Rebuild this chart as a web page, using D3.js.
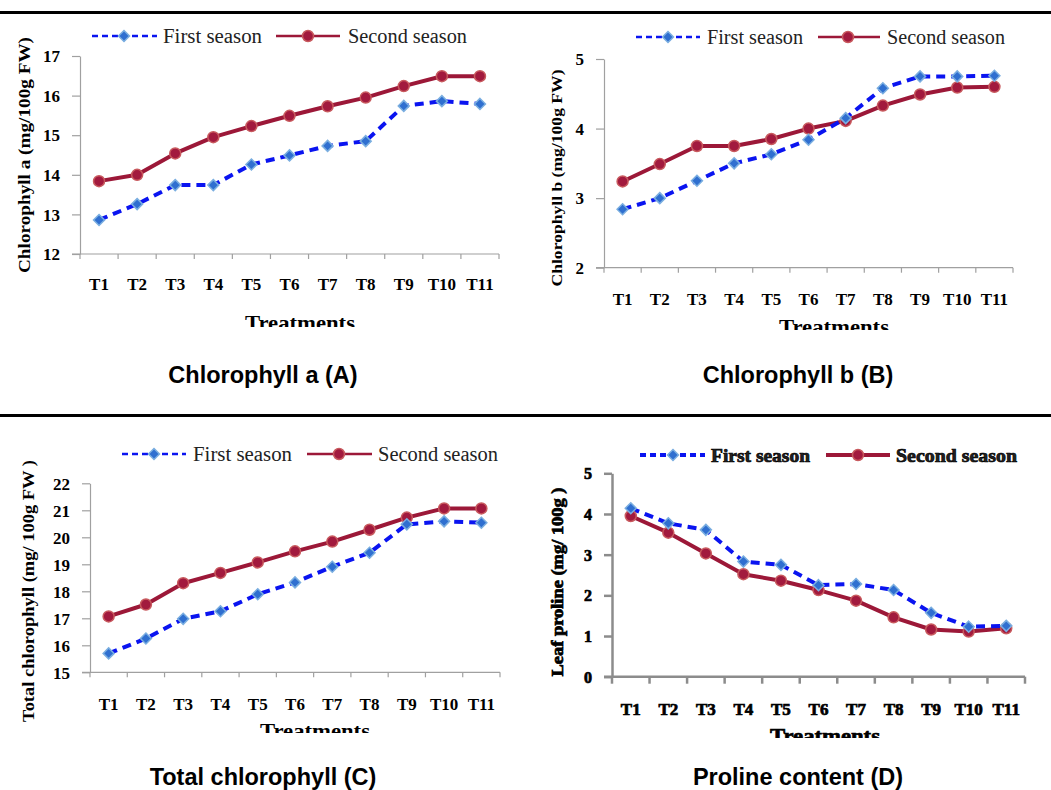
<!DOCTYPE html>
<html>
<head>
<meta charset="utf-8">
<script src="https://cdn.jsdelivr.net/npm/d3@7/dist/d3.min.js"></script>
<style>
	body { margin: 0; background: #fff; }
	.tick text, .tickLabel { font-family: "Liberation Serif", "Times New Roman", serif; font-weight: bold; fill: #000; }
	.legendText { font-family: "Liberation Serif", "Times New Roman", serif; fill: #222; }
	.yLabel, .xLabel { font-family: "Liberation Serif", "Times New Roman", serif; font-weight: bold; fill: #000; }
	.chartTitle { font-family: "Liberation Sans", Arial, sans-serif; font-weight: bold; fill: #000; }
	.heavy text, text.heavy { stroke: #000; stroke-width: 0.7px; }
</style>
</head>
<body>
<svg id="chart" width="1051" height="790"></svg>
<script>

// data
const treatments = ["T1", "T2", "T3", "T4", "T5", "T6", "T7", "T8", "T9", "T10", "T11"];

const chlAFirst  = [12.86, 13.26, 13.74, 13.74, 14.26, 14.49, 14.73, 14.85, 15.74, 15.86, 15.79];
const chlASecond = [13.84, 14.00, 14.54, 14.95, 15.23, 15.49, 15.73, 15.95, 16.24, 16.49, 16.49];

const chlBFirst  = [2.84, 3.00, 3.25, 3.50, 3.63, 3.84, 4.15, 4.58, 4.75, 4.75, 4.76];
const chlBSecond = [3.24, 3.49, 3.75, 3.75, 3.85, 4.00, 4.11, 4.33, 4.49, 4.59, 4.60];

const totalFirst  = [15.70, 16.25, 16.98, 17.26, 17.89, 18.33, 18.91, 19.43, 20.48, 20.59, 20.54];
const totalSecond = [17.07, 17.51, 18.30, 18.68, 19.07, 19.48, 19.84, 20.28, 20.73, 21.07, 21.07];

const prolineFirst  = [4.14, 3.77, 3.61, 2.83, 2.75, 2.25, 2.28, 2.13, 1.57, 1.23, 1.25];
const prolineSecond = [3.95, 3.54, 3.03, 2.52, 2.36, 2.13, 1.87, 1.46, 1.16, 1.11, 1.19];

const ticksA = [12, 13, 14, 15, 16, 17];
const ticksB = [2, 3, 4, 5];
const ticksC = [15, 16, 17, 18, 19, 20, 21, 22];
const ticksD = [0, 1, 2, 3, 4, 5];

const seriesNames = ["First season", "Second season"];

const BLUE = "#0a14f0";
const RED = "#9c1838";

const svg = d3.select("#chart");

// horizontal rules between rows
svg.append("line").attr("x1", 0).attr("x2", 1051).attr("y1", 12.5).attr("y2", 12.5)
	.attr("stroke", "#000").attr("stroke-width", 3);
svg.append("line").attr("x1", 0).attr("x2", 1051).attr("y1", 415.5).attr("y2", 415.5)
	.attr("stroke", "#000").attr("stroke-width", 3);

const panels = [
	{
		id: "A", first: chlAFirst, second: chlASecond, ticks: ticksA,
		left: 80, right: 499, top: 56, bottom: 254, axisColor: "#a0a0a0", axisWidth: 1.2, tickLen: 5,
		xLabelY: 290, yTickSize: 17,
		yLabel: "Chlorophyll a (mg/100g FW)", yLabelX: 24, yLabelMid: 155, yLabelLen: 236, yLabelSize: 16,
		treatX: 300, treatY: 330, treatClip: 327,
		legendY: 36, legendBase: 43,
		leg1: [92, 157, 124, 163, 99], leg2: [276, 340, 308, 348, 119], legSize: 20,
		title: "Chlorophyll a (A)", titleX: 263, titleY: 383, heavy: false
	},
	{
		id: "B", first: chlBFirst, second: chlBSecond, ticks: ticksB,
		left: 604, right: 1013, top: 59, bottom: 267.7, axisColor: "#a0a0a0", axisWidth: 1.2, tickLen: 5,
		xLabelY: 305, yTickSize: 17,
		yLabel: "Chlorophyll b (mg/100g FW)", yLabelX: 557, yLabelMid: 178, yLabelLen: 217, yLabelSize: 15,
		treatX: 834, treatY: 334, treatClip: 330,
		legendY: 37, legendBase: 44,
		leg1: [636, 700, 668, 707, 96], leg2: [818, 880, 848, 887, 118], legSize: 20,
		title: "Chlorophyll b (B)", titleX: 798, titleY: 383, heavy: false
	},
	{
		id: "C", first: totalFirst, second: totalSecond, ticks: ticksC,
		left: 90, right: 500, top: 483.3, bottom: 672.3, axisColor: "#a0a0a0", axisWidth: 1.2, tickLen: 5,
		xLabelY: 710, yTickSize: 17,
		yLabel: "Total chlorophyll (mg/ 100g FW )", yLabelX: 28, yLabelMid: 591, yLabelLen: 262, yLabelSize: 16,
		treatX: 315, treatY: 738, treatClip: 733,
		legendY: 454, legendBase: 461,
		leg1: [122, 186, 154, 193, 99], leg2: [307, 372, 339, 378, 120], legSize: 20,
		title: "Total chlorophyll (C)", titleX: 263, titleY: 785, heavy: false
	},
	{
		id: "D", first: prolineFirst, second: prolineSecond, ticks: ticksD,
		left: 612, right: 1025, top: 473.3, bottom: 676.7, axisColor: "#8c8c8c", axisWidth: 2.5, tickLen: 7,
		xLabelY: 715, yTickSize: 16,
		yLabel: "Leaf proline (mg/ 100g )", yLabelX: 557, yLabelMid: 582, yLabelLen: 189, yLabelSize: 16,
		treatX: 825, treatY: 743, treatClip: 738,
		legendY: 455, legendBase: 462,
		leg1: [640, 705, 673, 711, 99], leg2: [826, 890, 858, 896, 121], legSize: 19,
		title: "Proline content (D)", titleX: 798, titleY: 785, heavy: true
	}
];

function diamond(g, x, y, r) {
	g.append("path")
		.attr("d", `M${x},${y - r}L${x + r},${y}L${x},${y + r}L${x - r},${y}Z`)
		.attr("fill", "#2f6fd0")
		.attr("stroke", "#7aaee0")
		.attr("stroke-width", 1.5);
}

function dot(g, x, y, r) {
	g.append("circle")
		.attr("cx", x).attr("cy", y).attr("r", r)
		.attr("fill", "#a21a3e")
		.attr("stroke", "#c85a5e")
		.attr("stroke-width", 1.5);
}

panels.forEach(p => {

	const g = svg.append("g").attr("class", "panel" + p.id + (p.heavy ? " heavy" : ""));

	// scales
	const xScale = d3.scaleBand()
		.domain(treatments)
		.range([p.left, p.right]);

	const yScale = d3.scaleLinear()
		.domain(d3.extent(p.ticks))
		.range([p.bottom, p.top]);

	const cx = d => xScale(d) + xScale.bandwidth() / 2;

	// y axis
	const yAxis = g.append("g")
		.attr("transform", `translate(${p.left}, 0)`)
		.call(d3.axisLeft(yScale)
			.tickValues(p.ticks)
			.tickFormat(d3.format("d"))
			.tickSize(8)
			.tickSizeOuter(0)
			.tickPadding(12)
		);

	yAxis.select(".domain").attr("stroke", p.axisColor).attr("stroke-width", p.axisWidth);
	yAxis.selectAll(".tick line").attr("stroke", p.axisColor).attr("stroke-width", p.axisWidth);
	yAxis.selectAll(".tick text")
		.attr("font-size", p.yTickSize)
		.attr("dy", "0.34em");
	yAxis.attr("font-family", null).attr("font-size", null);

	// x axis line with ticks on the category boundaries
	g.append("line")
		.attr("x1", p.left - 8).attr("x2", p.right)
		.attr("y1", p.bottom).attr("y2", p.bottom)
		.attr("stroke", p.axisColor).attr("stroke-width", p.axisWidth);

	g.selectAll(".xTick")
		.data(treatments.concat(["end"]))
		.enter()
		.append("line")
		.attr("class", "xTick")
		.attr("x1", d => d === "end" ? p.right : xScale(d))
		.attr("x2", d => d === "end" ? p.right : xScale(d))
		.attr("y1", p.bottom)
		.attr("y2", p.bottom + p.tickLen)
		.attr("stroke", p.axisColor).attr("stroke-width", p.axisWidth);

	g.selectAll(".tickLabel")
		.data(treatments)
		.enter()
		.append("text")
		.attr("class", "tickLabel")
		.attr("x", d => cx(d))
		.attr("y", p.xLabelY)
		.attr("text-anchor", "middle")
		.attr("font-size", 17)
		.text(d => d);

	// x axis title, cut off at the bottom as in the figure
	const clipId = "clip" + p.id;
	svg.append("clipPath").attr("id", clipId)
		.append("rect")
		.attr("x", p.treatX - 100).attr("y", p.treatClip - 40)
		.attr("width", 200).attr("height", 40);

	g.append("text")
		.attr("class", "xLabel")
		.attr("clip-path", `url(#${clipId})`)
		.attr("x", p.treatX)
		.attr("y", p.treatY)
		.attr("text-anchor", "middle")
		.attr("font-size", 21)
		.attr("textLength", 110)
		.attr("lengthAdjust", "spacingAndGlyphs")
		.text("Treatments");

	// y axis title
	g.append("text")
		.attr("class", "yLabel")
		.attr("transform", `translate(${p.yLabelX}, ${p.yLabelMid}) rotate(-90)`)
		.attr("text-anchor", "middle")
		.attr("dy", "0.35em")
		.attr("font-size", p.yLabelSize)
		.attr("textLength", p.yLabelLen)
		.attr("lengthAdjust", "spacingAndGlyphs")
		.text(p.yLabel);

	// lines
	const line = d3.line()
		.x((d, i) => cx(treatments[i]))
		.y(d => yScale(d));

	g.append("path")
		.datum(p.second)
		.attr("fill", "none")
		.attr("stroke", RED)
		.attr("stroke-width", 4)
		.attr("stroke-linejoin", "round")
		.attr("d", line);

	g.append("path")
		.datum(p.first)
		.attr("fill", "none")
		.attr("stroke", BLUE)
		.attr("stroke-width", 4)
		.attr("stroke-dasharray", "9 6")
		.attr("stroke-linecap", "butt")
		.attr("d", line);

	p.second.forEach((v, i) => dot(g, cx(treatments[i]), yScale(v), 5.5));
	p.first.forEach((v, i) => diamond(g, cx(treatments[i]), yScale(v), 5.5));

	// legend
	const leg = g.append("g");

	leg.append("line")
		.attr("x1", p.leg1[0]).attr("x2", p.leg1[1])
		.attr("y1", p.legendY).attr("y2", p.legendY)
		.attr("stroke", BLUE).attr("stroke-width", p.heavy ? 4 : 2.5)
		.attr("stroke-dasharray", "6 4");
	diamond(leg, p.leg1[2], p.legendY, 5.5);
	leg.append("text")
		.attr("class", "legendText")
		.attr("x", p.leg1[3]).attr("y", p.legendBase)
		.attr("font-size", p.legSize)
		.attr("font-weight", p.heavy ? "bold" : "normal")
		.attr("textLength", p.leg1[4])
		.attr("lengthAdjust", "spacingAndGlyphs")
		.text(seriesNames[0]);

	leg.append("line")
		.attr("x1", p.leg2[0]).attr("x2", p.leg2[1])
		.attr("y1", p.legendY).attr("y2", p.legendY)
		.attr("stroke", RED).attr("stroke-width", p.heavy ? 4 : 2.5);
	dot(leg, p.leg2[2], p.legendY, 5.5);
	leg.append("text")
		.attr("class", "legendText")
		.attr("x", p.leg2[3]).attr("y", p.legendBase)
		.attr("font-size", p.legSize)
		.attr("font-weight", p.heavy ? "bold" : "normal")
		.attr("textLength", p.leg2[4])
		.attr("lengthAdjust", "spacingAndGlyphs")
		.text(seriesNames[1]);

	// panel caption
	svg.append("text")
		.attr("class", "chartTitle")
		.attr("x", p.titleX)
		.attr("y", p.titleY)
		.attr("text-anchor", "middle")
		.attr("font-size", 23.5)
		.text(p.title);

});

</script>
</body>
</html>
